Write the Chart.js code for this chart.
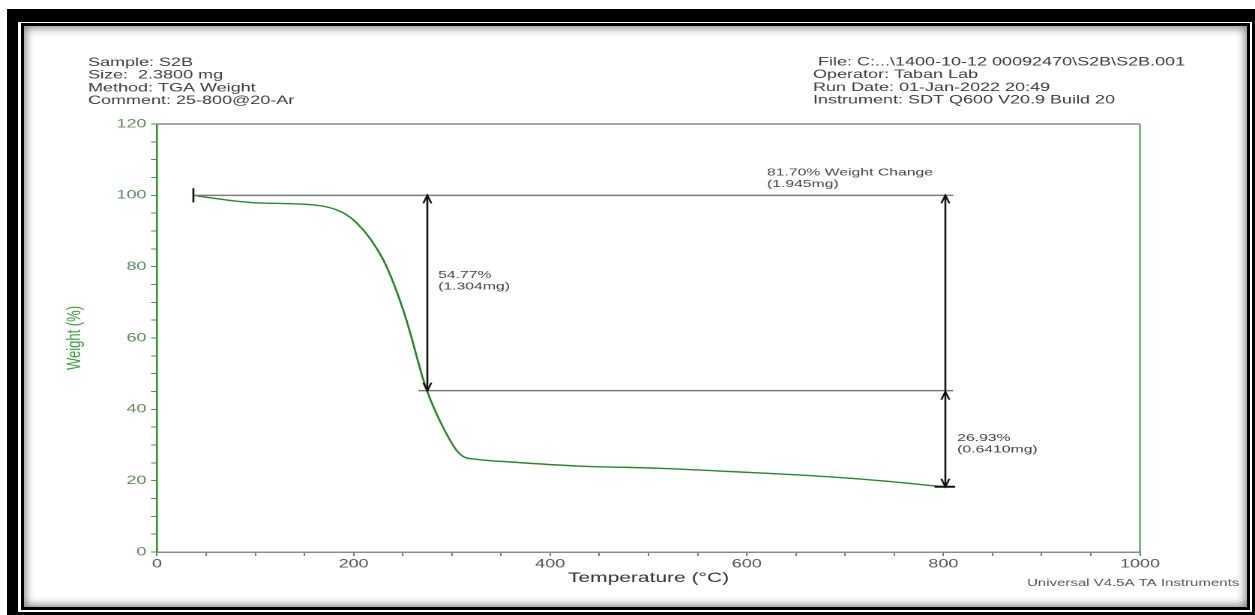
<!DOCTYPE html>
<html>
<head>
<meta charset="utf-8">
<script src="https://cdn.jsdelivr.net/npm/chart.js@4.4.0/dist/chart.umd.min.js"></script>
<style>
  html, body { margin: 0; padding: 0; background: #fff; overflow: hidden; }
  body { width: 1255px; height: 615px; position: relative; }
  #frameOuter { position: absolute; left: 7px; top: 9px; width: 1248px; height: 606px; background: #000; }
  #frameGap { position: absolute; left: 18px; top: 22px; width: 1234px; height: 590px; background: #fff; }
  #frameInner { position: absolute; left: 21px; top: 23px; width: 1229px; height: 587px; box-sizing: border-box;
                border: 3px solid #000; background: #fff; box-shadow: inset 0 0 8px 2px rgba(0,0,0,0.5); }
  /* the reference picture is stretched sideways, so the chart is drawn narrow and scaled */
  #wrap { position: absolute; left: 0; top: 0; width: 837px; height: 615px; transform: scaleX(1.4994); transform-origin: 0 0; }
</style>
</head>
<body>
<div id="frameOuter"></div>
<div id="frameGap"></div>
<div id="frameInner"></div>
<div id="wrap"><canvas id="tga" width="837" height="615"></canvas></div>

<script>
// TGA curve, sample S2B
var temps   = [37, 57, 80, 100, 130, 155, 170, 182, 192, 203, 217, 230, 240, 250, 257, 264, 270, 275, 282, 288, 298, 305, 312, 325, 362, 428, 509, 572, 618, 688, 740, 800];
var weights = [100, 99.2, 98.4, 97.9, 97.7, 97.4, 96.9, 96.0, 94.7, 92.3, 87.8, 82.0, 75.8, 68.2, 62.0, 55.0, 49.1, 45.0, 40.2, 36.6, 31.4, 28.4, 26.7, 26.0, 25.2, 24.1, 23.5, 22.7, 22.1, 21.0, 19.9, 18.3];

// step analysis
var stepLevels = [100, 45.23, 18.30];
var stepTemps = [37, 275, 802];
var stepLabels = [
  ["54.77%", "(1.304mg)"],
  ["81.70% Weight Change", "(1.945mg)"],
  ["26.93%", "(0.6410mg)"]
];

var headerLeft = ["Sample: S2B", "Size:  2.3800 mg", "Method: TGA Weight", "Comment: 25-800@20-Ar"];
var headerRight = ["File: C:...\\1400-10-12 00092470\\S2B\\S2B.001", "Operator: Taban Lab", "Run Date: 01-Jan-2022 20:49", "Instrument: SDT Q600 V20.9 Build 20"];
var footer = "Universal V4.5A TA Instruments";

var S = 1255 / 837;
var FONT = '"Liberation Sans", Arial, sans-serif';

function line(ctx, x1, y1, x2, y2) {
  ctx.beginPath();
  ctx.moveTo(x1, y1);
  ctx.lineTo(x2, y2);
  ctx.stroke();
}

// dir -1 = pointing up, 1 = pointing down
function head(ctx, x, y, dir) {
  ctx.beginPath();
  ctx.moveTo(x - 2.7, y - dir * 8);
  ctx.lineTo(x, y);
  ctx.lineTo(x + 2.7, y - dir * 8);
  ctx.stroke();
}

const tgaPlugin = {
  id: "tga",
  afterDatasetsDraw(chart) {
    const ctx = chart.ctx;
    const xs = chart.scales.x, ys = chart.scales.y;
    const a = chart.chartArea;
    ctx.save();

    // top and right border of the plot
    ctx.lineWidth = 1.5;
    ctx.strokeStyle = "#8a8a8a";
    line(ctx, a.left, a.top, a.right, a.top);
    ctx.lineWidth = 1;
    ctx.strokeStyle = "#3a9a3a";
    line(ctx, a.right, a.top, a.right, a.bottom);

    // level lines
    ctx.strokeStyle = "#7a7a7a";
    ctx.lineWidth = 1.5;
    line(ctx, xs.getPixelForValue(stepTemps[0]), ys.getPixelForValue(stepLevels[0]), xs.getPixelForValue(810), ys.getPixelForValue(stepLevels[0]));
    line(ctx, xs.getPixelForValue(266), ys.getPixelForValue(stepLevels[1]), xs.getPixelForValue(810), ys.getPixelForValue(stepLevels[1]));

    ctx.strokeStyle = "#111";
    ctx.lineWidth = 1.3;
    // start marker
    var x0 = xs.getPixelForValue(stepTemps[0]);
    line(ctx, x0, ys.getPixelForValue(102), x0, ys.getPixelForValue(98));

    // first arrow
    var x1 = xs.getPixelForValue(stepTemps[1]);
    var yTop = ys.getPixelForValue(stepLevels[0]);
    var yMid = ys.getPixelForValue(stepLevels[1]);
    var yEnd = ys.getPixelForValue(stepLevels[2]);
    line(ctx, x1, yTop, x1, yMid);
    head(ctx, x1, yTop, -1);
    head(ctx, x1, yMid, 1);

    // second arrow
    var x2 = xs.getPixelForValue(stepTemps[2]);
    line(ctx, x2, yTop, x2, yEnd);
    head(ctx, x2, yTop, -1);
    head(ctx, x2, yMid + 1, -1);
    head(ctx, x2, yEnd, 1);
    ctx.lineWidth = 2;
    line(ctx, xs.getPixelForValue(791), yEnd, xs.getPixelForValue(812), yEnd);

    // step texts
    ctx.fillStyle = "#444";
    ctx.font = "10.5px " + FONT;
    ctx.textBaseline = "middle";
    ctx.textAlign = "left";
    var spots = [[286, 77.7], [620.5, 106.4], [814, 32.0]];
    for (var i = 0; i < stepLabels.length; i++) {
      var tx = xs.getPixelForValue(spots[i][0]);
      var ty = ys.getPixelForValue(spots[i][1]);
      ctx.fillText(stepLabels[i][0], tx, ty);
      ctx.fillText(stepLabels[i][1], tx, ty + 11.5);
    }

    // header
    ctx.fillStyle = "#3c3c3c";
    ctx.font = "12px " + FONT;
    for (var j = 0; j < 4; j++) {
      ctx.fillText(headerLeft[j], 88 / S, 62.5 + 12.8 * j);
      ctx.fillText(headerRight[j], (j === 0 ? 818 : 813) / S, 62 + 12.8 * j);
    }
    ctx.fillStyle = "#555";
    ctx.font = "10px " + FONT;
    ctx.fillText(footer, 1027 / S, 583);

    ctx.restore();
  }
};

new Chart(document.getElementById("tga"), {
  type: "line",
  data: {
    datasets: [{
      data: temps.map(function (t, i) { return { x: t, y: weights[i] }; }),
      borderColor: "#2c852c",
      borderWidth: 1.4,
      pointRadius: 0,
      cubicInterpolationMode: "monotone",
      fill: false
    }]
  },
  options: {
    responsive: false,
    animation: false,
    devicePixelRatio: 2,
    layout: {
      padding: { left: 42, top: 124, right: 837 - 1140 / S, bottom: 615 - 586.4 }
    },
    plugins: {
      legend: { display: false },
      tooltip: { enabled: false }
    },
    scales: {
      x: {
        type: "linear",
        min: 0,
        max: 1000,
        afterFit: function (s) { s.height = 34.4; },
        ticks: {
          stepSize: 50,
          autoSkip: false,
          maxRotation: 0,
          padding: 1,
          color: "#555",
          font: { family: FONT, size: 12 },
          callback: function (v) { return v % 200 === 0 ? v : ""; }
        },
        grid: { drawOnChartArea: false, tickLength: 4, color: "#777", lineWidth: 1 },
        border: { color: "#8a8a8a", width: 1.5 },
        title: {
          display: true,
          text: "Temperature (°C)",
          color: "#333",
          font: { family: FONT, size: 14 },
          padding: 0
        }
      },
      y: {
        min: 0,
        max: 120,
        afterFit: function (s) { s.width = 157 / S - 42; },
        ticks: {
          stepSize: 5,
          autoSkip: false,
          padding: 3,
          color: "#5e8c5e",
          font: { family: FONT, size: 12 },
          callback: function (v) { return v % 20 === 0 ? v : ""; }
        },
        grid: { drawOnChartArea: false, tickLength: 4, color: "#3a9a3a", lineWidth: 1 },
        border: { color: "#2e9a2e", width: 1.3 },
        title: {
          display: true,
          text: "Weight (%)",
          color: "#3a9a3a",
          font: { family: FONT, size: 13 },
          padding: 0
        }
      }
    }
  },
  plugins: [tgaPlugin]
});
</script>
</body>
</html>
